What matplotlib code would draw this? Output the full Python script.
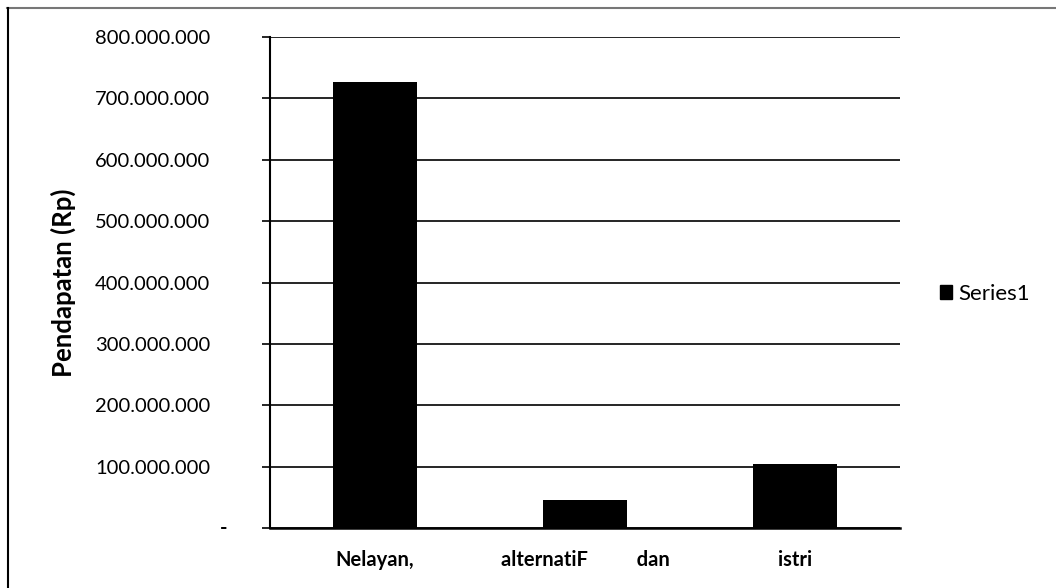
import matplotlib
matplotlib.use("Agg")
import matplotlib.pyplot as plt
import matplotlib.transforms as mtransforms
from matplotlib.ticker import FuncFormatter
from matplotlib.patches import Rectangle
from matplotlib.lines import Line2D

# Data
categories = ["Nelayan,", "alternatiF          dan", "istri"]
pendapatan = [726_000_000, 45_500_000, 104_000_000]
series_name = "Series1"
y_ticks = [0, 100_000_000, 200_000_000, 300_000_000, 400_000_000,
           500_000_000, 600_000_000, 700_000_000, 800_000_000]

plt.rcParams['font.family'] = ['Lato', 'DejaVu Sans']

W, H = 1056, 588
fig = plt.figure(figsize=(W / 100, H / 100), dpi=100)
fig.patch.set_facecolor("white")

# plot area in pixels: x 270..900, y 37..528
ax = fig.add_axes([270 / W, 1 - 528 / H, 630 / W, 491 / H])

x = list(range(len(categories)))
ax.bar(x, pendapatan, width=0.4, color="black", label=series_name, zorder=3)

ax.set_xlim(-0.5, len(categories) - 0.5)
ax.set_ylim(0, 800_000_000)
ax.set_yticks(y_ticks)


def fmt(v, pos):
    # zero is drawn separately as an accounting-style dash
    if v == 0:
        return ""
    return f"{int(v):,}".replace(",", ".")


ax.yaxis.set_major_formatter(FuncFormatter(fmt))
ax.yaxis.grid(True, color="black", linewidth=1.2, zorder=0)
ax.set_axisbelow(True)

# accounting dash for the zero tick, set in from the number column
trans = mtransforms.blended_transform_factory(ax.transAxes, ax.transData)
ax.text(-0.073, y_ticks[0], "-", transform=trans, ha="center", va="center",
        fontsize=14.5, fontweight="bold")

ax.set_xticks(x)
ax.set_xticklabels(categories, fontweight="bold", fontsize=14.5)
ax.tick_params(axis="x", length=0, pad=16)
ax.tick_params(axis="y", direction="out", length=6, width=1.2, pad=37,
               labelsize=14.5)

for s in ["top", "right"]:
    ax.spines[s].set_visible(False)
ax.spines["left"].set_linewidth(1.5)
ax.spines["bottom"].set_linewidth(1.8)

# y-axis title placed in figure pixels
fig.text(63 / W, 1 - 283 / H, "Pendapatan (Rp)", fontweight="bold",
         fontsize=18.5, rotation=90, ha="center", va="center")

# legend
fig.legend(handles=[Rectangle((0, 0), 1, 1, color="black")], labels=[series_name],
           loc="center left", bbox_to_anchor=(929 / W, 1 - 294 / H),
           frameon=False, fontsize=16, handlelength=0.55, handleheight=0.55,
           handletextpad=0.25, borderpad=0)

# outer chart frame
fig.add_artist(Line2D([7 / W, 1], [1 - 8 / H, 1 - 8 / H], color="#777777",
                      linewidth=1.5, transform=fig.transFigure))
fig.add_artist(Line2D([8 / W, 8 / W], [0, 1 - 8 / H], color="black",
                      linewidth=1.5, transform=fig.transFigure))

fig.savefig("out.png", dpi=100, facecolor="white")
